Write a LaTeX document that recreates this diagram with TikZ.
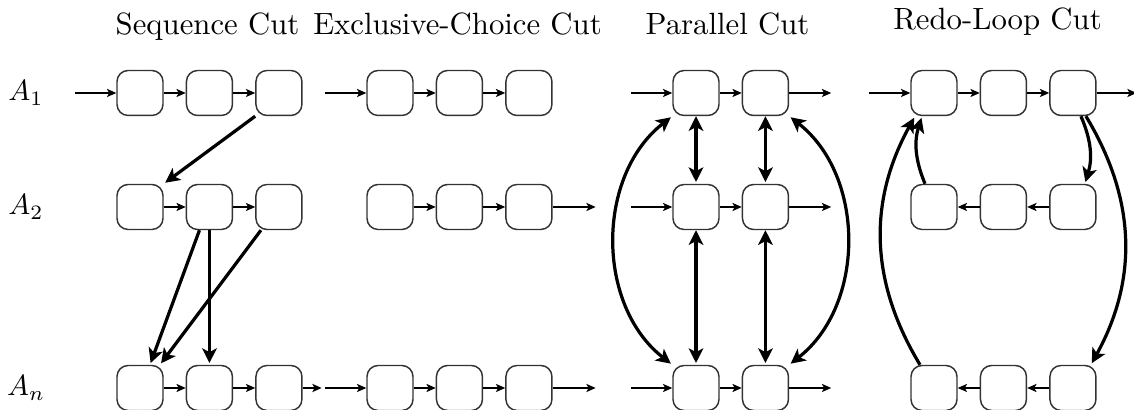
\documentclass[tikz,border=0pt]{standalone}
\usepackage{amsmath}
\usepackage{tikz}
\usetikzlibrary{arrows.meta, calc, positioning}

\begin{document}
\begin{tikzpicture}[
	> = {Stealth[length=3.2pt,width=2.8pt,inset=0.8pt]},
	blk/.style = {draw=black!80, line width=0.5pt, rounded corners=3.8pt, minimum width=0.552cm, minimum height=0.54cm, inner sep=0pt},
	cut/.style = {->, line width=1.1pt, shorten >=0.6pt, > = {Stealth[length=5pt,width=5pt,inset=1.3pt]}},
	title/.style = {anchor=base, font=\fontsize{10.5}{12}\selectfont}
]
	\useasboundingbox (0,0) rectangle (13.608,4.92);

	% headings
	\node[title] (tseq) at (2.49,4.5) {Sequence Cut};
	\node[title] (texc) at (5.49,4.5) {Exclusive-Choice Cut};
	\node[title] (tpar) at (8.73,4.5) {Parallel Cut};
	\node[title] (tred) at (11.97,4.56) {Redo-Loop Cut};

	% trace names
	\node (l1) at (0.312,3.804) {$A_1$};
	\node (l2) at (0.312,2.436) {$A_2$};
	\node (ln) at (0.312,0.264) {$A_n$};

	% activity boxes, one row per trace
	\foreach \r/\y in {1/3.804, 2/2.436, 3/0.264} {
		\node[blk] (s\r1) at (1.68,\y) {};
		\node[blk, right=0.264cm of s\r1] (s\r2) {};
		\node[blk, right=0.264cm of s\r2] (s\r3) {};
		\node[blk] (e\r1) at (4.68,\y) {};
		\node[blk, right=0.264cm of e\r1] (e\r2) {};
		\node[blk, right=0.264cm of e\r2] (e\r3) {};
		\node[blk] (p\r1) at (8.352,\y) {};
		\node[blk, right=0.264cm of p\r1] (p\r2) {};
		\node[blk] (r\r1) at (11.208,\y) {};
		\node[blk, right=0.264cm of r\r1] (r\r2) {};
		\node[blk, right=0.264cm of r\r2] (r\r3) {};
	}

	% sequence cut
	\coordinate[left=0.492cm of s11] (s1in);
	\coordinate[right=0.228cm of s33] (s3out);
	\draw[->] (s1in) -- (s11);
	\draw[->] (s33) -- (s3out);
	\foreach \r in {1,2,3} {
		\draw[->] (s\r1) -- (s\r2);
		\draw[->] (s\r2) -- (s\r3);
	}
	\draw[cut] (s13.south west) -- (s21.north east);
	\draw[cut] ([xshift=-0.12cm]s22.south) -- ([xshift=0.12cm]s31.north);
	\draw[cut] (s22.south) -- (s32.north);
	\draw[cut] ([xshift=-0.216cm]s23.south) -- ([xshift=0.24cm]s31.north);

	% exclusive-choice cut
	\coordinate[left=0.492cm of e11] (e1in);
	\coordinate[left=0.492cm of e31] (e3in);
	\coordinate[right=0.516cm of e23] (e2out);
	\coordinate[right=0.516cm of e33] (e3out);
	\draw[->] (e1in) -- (e11);
	\draw[->] (e3in) -- (e31);
	\draw[->] (e23) -- (e2out);
	\draw[->] (e33) -- (e3out);
	\foreach \r in {1,2,3} {
		\draw[->] (e\r1) -- (e\r2);
		\draw[->] (e\r2) -- (e\r3);
	}

	% parallel cut
	\foreach \r in {1,2,3} {
		\coordinate[left=0.492cm of p\r1] (p\r in);
		\coordinate[right=0.504cm of p\r2] (p\r out);
		\draw[->] (p\r in) -- (p\r1);
		\draw[->] (p\r1) -- (p\r2);
		\draw[->] (p\r2) -- (p\r out);
	}
	\foreach \c in {1,2} {
		\draw[cut, <->] (p1\c) -- (p2\c);
		\draw[cut, <->] (p2\c) -- (p3\c);
	}
	\draw[cut, <->, shorten <=0.6pt] (p11.south west) to[bend right=52] (p31.north west);
	\draw[cut, <->, shorten <=0.6pt] (p12.south east) to[bend left=52] (p32.north east);

	% redo-loop cut
	\coordinate[left=0.492cm of r11] (r1in);
	\coordinate[right=0.48cm of r13] (r1out);
	\draw[->] (r1in) -- (r11);
	\draw[->] (r11) -- (r12);
	\draw[->] (r12) -- (r13);
	\draw[->] (r13) -- (r1out);
	\foreach \r in {2,3} {
		\draw[->] (r\r3) -- (r\r2);
		\draw[->] (r\r2) -- (r\r1);
	}
	\draw[cut] ([xshift=0.096cm]r13.south) to[bend left=20] ([xshift=0.144cm]r23.north);
	\draw[cut] ([xshift=0.156cm]r13.south) to[bend left=30] ([xshift=0.216cm]r33.north);
	\draw[cut] ([xshift=-0.108cm]r21.north) to[bend left=20] ([xshift=-0.144cm]r11.south);
	\draw[cut] ([xshift=-0.168cm]r31.north) to[bend left=30] ([xshift=-0.228cm]r11.south);
\end{tikzpicture}
\end{document}
